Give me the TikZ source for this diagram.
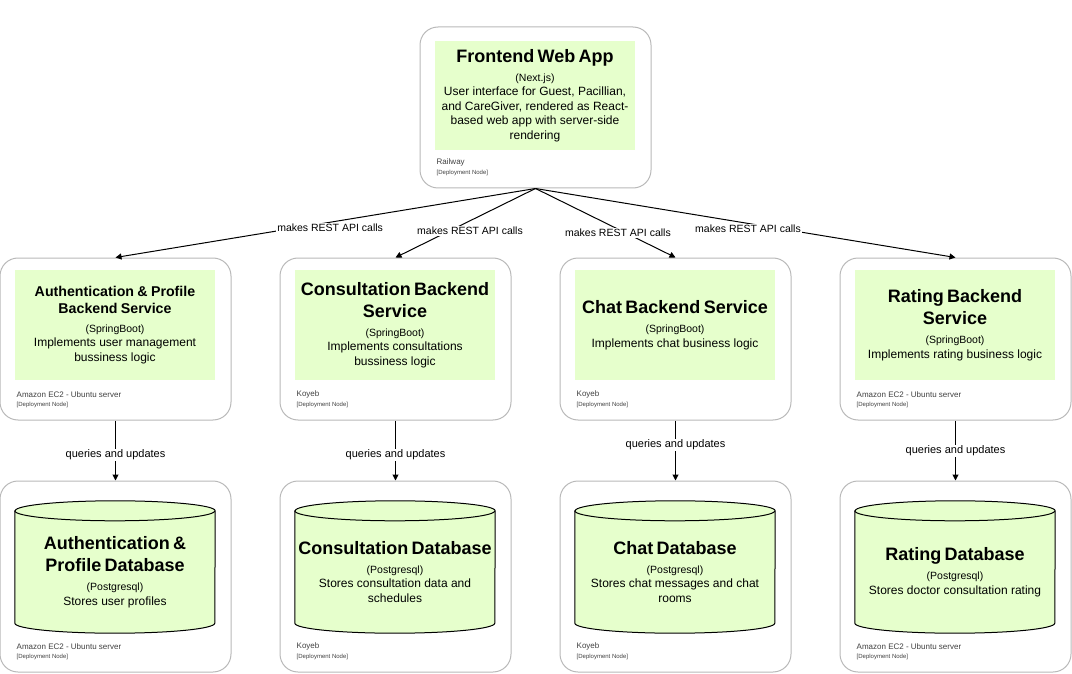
\documentclass[tikz,border=0pt]{standalone}
\usepackage{fontspec}
\setmainfont{Liberation Sans}
\usepackage{xcolor}
\definecolor{nodegreen}{RGB}{230, 255, 204}
\definecolor{deploygray}{RGB}{185, 185, 185}
\usetikzlibrary{
    arrows.meta,
    positioning,
    backgrounds
}
\newcommand{\boxtitle}[1]{{\fontsize{18pt}{22pt}\selectfont\bfseries #1\par}}
\newcommand{\boxtitlesmall}[1]{{\fontsize{14.2pt}{17pt}\selectfont\bfseries #1\par}}
\newcommand{\boxtech}[1]{{\fontsize{10.5pt}{19pt}\selectfont(#1)\par}}
\newcommand{\boxdesc}[1]{{\fontsize{12pt}{14.5pt}\selectfont #1\par}}
\tikzstyle{deploy} = [
    rectangle,
    draw=deploygray,
    line width=1pt,
    rounded corners=18pt,
    minimum width=231pt,
    minimum height=162pt
]
\tikzstyle{service} = [
    rectangle,
    fill=nodegreen,
    minimum width=200pt,
    minimum height=110pt,
    text width=200pt,
    inner sep=0pt,
    align=center
]
\tikzstyle{dbtext} = [
    rectangle,
    minimum width=200pt,
    minimum height=132pt,
    text width=200pt,
    inner sep=0pt,
    align=center
]
\tikzstyle{dbshape} = [
    draw=black,
    fill=nodegreen,
    line width=1pt
]
\tikzstyle{hostname} = [
    anchor=west,
    inner sep=0pt,
    text=black!75,
    font=\fontsize{8pt}{9pt}\selectfont
]
\tikzstyle{hostkind} = [
    anchor=west,
    inner sep=0pt,
    text=black!75,
    font=\fontsize{6pt}{7pt}\selectfont
]
\tikzstyle{arrow} = [
    line width=1pt,
    -{Triangle[length=6pt,width=6pt]}
]
\tikzstyle{edgelabel} = [
    fill=white,
    inner sep=1pt,
    font=\fontsize{11pt}{13pt}\selectfont
]

\begin{document}
\begin{tikzpicture}[x=1pt, y=1pt]

\useasboundingbox (0,0) rectangle (1072,-674);

% Deployment-Knoten
\node (front) [deploy, minimum height=161pt] at (535.5,-107.5) {};
\node (authsvc) [deploy] at (115.5,-339) {};
\node (conssvc) [deploy] at (395.5,-339) {};
\node (chatsvc) [deploy] at (675.5,-339) {};
\node (ratesvc) [deploy] at (955.5,-339) {};
\node (authdbnode) [deploy, minimum height=191pt] at (115.5,-576.5) {};
\node (consdbnode) [deploy, minimum height=191pt] at (395.5,-576.5) {};
\node (chatdbnode) [deploy, minimum height=191pt] at (675.5,-576.5) {};
\node (ratedbnode) [deploy, minimum height=191pt] at (955.5,-576.5) {};

% Container
\node (frontapp) [service, minimum height=109pt] at (535,-95.5)
    {\boxtitle{Frontend Web App}\boxtech{Next.js}\boxdesc{User interface for Guest, Pacillian,\\and CareGiver, rendered as React-\\based web app with server-side\\rendering}};
\node (authapp) [service] at (115,-325)
    {\boxtitlesmall{Authentication \& Profile\\Backend Service}\boxtech{SpringBoot}\boxdesc{Implements user management\\bussiness logic}};
\node (consapp) [service] at (395,-325)
    {\boxtitle{Consultation Backend\\Service}\boxtech{SpringBoot}\boxdesc{Implements consultations\\bussiness logic}};
\node (chatapp) [service] at (675,-325)
    {\boxtitle{Chat Backend Service}\boxtech{SpringBoot}\boxdesc{Implements chat business logic}};
\node (rateapp) [service] at (955,-325)
    {\boxtitle{Rating Backend\\Service}\boxtech{SpringBoot}\boxdesc{Implements rating business logic}};

\node (authdb) [dbtext] at (115,-572)
    {\boxtitle{Authentication \&\\Profile Database}\boxtech{Postgresql}\boxdesc{Stores user profiles}};
\node (consdb) [dbtext] at (395,-572)
    {\boxtitle{Consultation Database}\boxtech{Postgresql}\boxdesc{Stores consultation data and\\schedules}};
\node (chatdb) [dbtext] at (675,-572)
    {\boxtitle{Chat Database}\boxtech{Postgresql}\boxdesc{Stores chat messages and chat\\rooms}};
\node (ratedb) [dbtext] at (955,-572)
    {\boxtitle{Rating Database}\boxtech{Postgresql}\boxdesc{Stores doctor consultation rating}};

% Zylinder hinter den Datenbanktexten
\begin{scope}[on background layer]
\foreach \db in {authdb, consdb, chatdb, ratedb} {
    \draw [dbshape] ([yshift=-5pt]\db.north west) -- ([yshift=15pt]\db.south west)
        arc[start angle=180, end angle=360, x radius=100pt, y radius=10pt]
        -- ([yshift=-5pt]\db.north east)
        arc[start angle=0, end angle=180, x radius=100pt, y radius=10pt] -- cycle;
    \draw [line width=1pt] ([yshift=-5pt]\db.north west)
        arc[start angle=180, end angle=360, x radius=100pt, y radius=10pt];
}
\end{scope}

% Hosting-Beschriftungen
\foreach \n/\h in {front/Railway, authsvc/Amazon EC2 - Ubuntu server,
    conssvc/Koyeb, chatsvc/Koyeb, ratesvc/Amazon EC2 - Ubuntu server,
    authdbnode/Amazon EC2 - Ubuntu server, consdbnode/Koyeb,
    chatdbnode/Koyeb, ratedbnode/Amazon EC2 - Ubuntu server} {
    \node (\n-host) [hostname] at ([shift={(17pt,26pt)}]\n.south west) {\h};
    \node (\n-kind) [hostkind] at ([shift={(17pt,16pt)}]\n.south west) {[Deployment Node]};
}

% REST-Aufrufe
\draw [arrow] (front.south) -- node[edgelabel, font=\fontsize{10.5pt}{13pt}\selectfont, pos=0.489, yshift=-6pt] {makes REST API calls} (authsvc.north);
\draw [arrow] (front.south) -- node[edgelabel, font=\fontsize{10.5pt}{13pt}\selectfont, pos=0.468, yshift=-10pt] {makes REST API calls} (conssvc.north);
\draw [arrow] (front.south) -- node[edgelabel, font=\fontsize{10.5pt}{13pt}\selectfont, pos=0.589, yshift=-4pt] {makes REST API calls} (chatsvc.north);
\draw [arrow] (front.south) -- node[edgelabel, font=\fontsize{10.5pt}{13pt}\selectfont, pos=0.506, yshift=-5pt] {makes REST API calls} (ratesvc.north);

% Datenbankzugriffe
\draw [arrow] (authsvc.south) -- node[edgelabel, pos=0.574] {queries and updates} (authdbnode.north);
\draw [arrow] (conssvc.south) -- node[edgelabel, pos=0.574] {queries and updates} (consdbnode.north);
\draw [arrow] (chatsvc.south) -- node[edgelabel, pos=0.41] {queries and updates} (chatdbnode.north);
\draw [arrow] (ratesvc.south) -- node[edgelabel, pos=0.508] {queries and updates} (ratedbnode.north);

\end{tikzpicture}
\end{document}
